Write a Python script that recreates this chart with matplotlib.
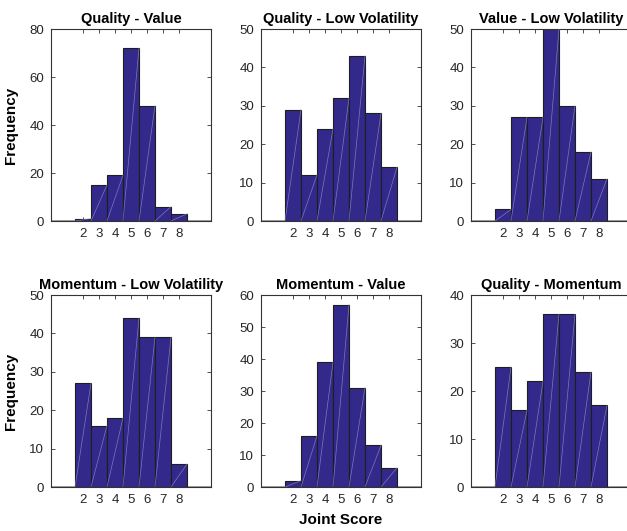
import numpy as np
import matplotlib
matplotlib.use("Agg")
import matplotlib.pyplot as plt

plt.rcParams['font.family'] = ['Liberation Sans', 'DejaVu Sans']

scores = [2, 3, 4, 5, 6, 7, 8]

quality_value = [1, 15, 19, 72, 48, 6, 3]
quality_lowvol = [29, 12, 24, 32, 43, 28, 14]
value_lowvol = [3, 27, 27, 50, 30, 18, 11]
momentum_lowvol = [27, 16, 18, 44, 39, 39, 6]
momentum_value = [2, 16, 39, 57, 31, 13, 6]
quality_momentum = [25, 16, 22, 36, 36, 24, 17]

titles = ['Quality - Value', 'Quality - Low Volatility', 'Value - Low Volatility',
          'Momentum - Low Volatility', 'Momentum - Value', 'Quality - Momentum']
counts = [quality_value, quality_lowvol, value_lowvol,
          momentum_lowvol, momentum_value, quality_momentum]
ymax = [80, 50, 50, 50, 60, 40]
ystep = [20, 10, 10, 10, 10, 10]

W, H = 627, 531
fig = plt.figure(figsize=(W / 100, H / 100), dpi=100)

lefts = [51, 261, 471]
bottoms = [310, 44]
bar_color = '#32298a'
axis_color = '#333333'

for i in range(6):
    r, c = divmod(i, 3)
    ax = fig.add_axes([lefts[c] / W, bottoms[r] / H, 160 / W, 192 / H])
    ax.axhline(0, color='#8c8c8c', lw=1.2, zorder=1)
    ax.bar(scores, counts[i], width=1.0, color=bar_color,
           edgecolor='#1e1e1e', linewidth=0.8, zorder=2)
    # faint seams across each bar
    for x, v in zip(scores, counts[i]):
        ax.plot([x - 0.5, x + 0.5], [0, v], color='#8f8ccc', lw=0.5,
                alpha=0.8, zorder=3)
    ax.set_xlim(0, 10)
    ax.set_ylim(0, ymax[i])
    ax.set_xticks(scores)
    ax.set_yticks(np.arange(0, ymax[i] + 1, ystep[i]))
    ax.tick_params(direction='in', length=3, width=0.6, top=True, right=True,
                   labelsize=9.5, colors=axis_color, labelcolor='#262626', pad=5)
    for s in ax.spines.values():
        s.set_color(axis_color)
        s.set_linewidth(0.8)
    ax.set_title(titles[i], fontsize=10.5, fontweight='bold', pad=4)
    if c == 0:
        ax.set_ylabel('Frequency', fontsize=11, fontweight='bold')
        ax.yaxis.set_label_coords(-0.206, 0.5)

fig.text(341 / W, 11 / H, 'Joint Score', fontsize=11, fontweight='bold',
         ha='center', va='center')

fig.savefig('out.png', dpi=100)
